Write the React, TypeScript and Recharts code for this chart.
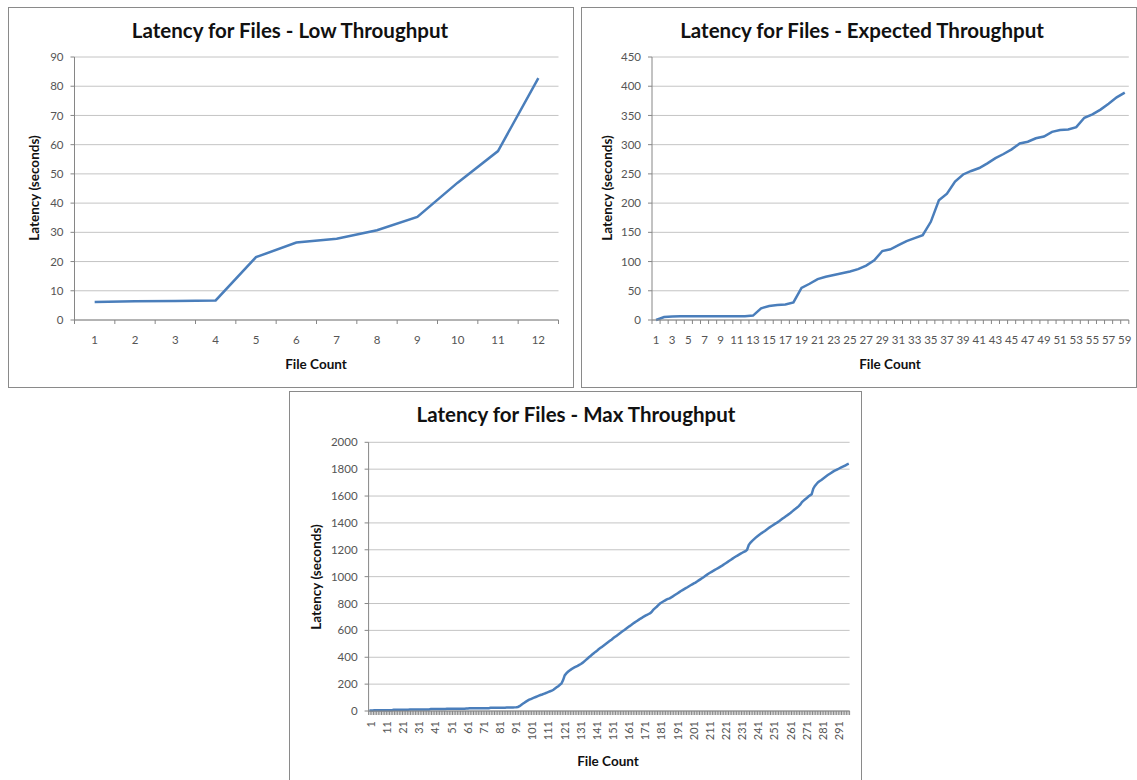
import React from 'react';
import { LineChart, Line, XAxis, YAxis, CartesianGrid } from 'recharts';

// ---------- data ----------
const lowLatency = [6.2, 6.4, 6.5, 6.7, 21.5, 26.5, 27.8, 30.7, 35.3, 47.0, 57.8, 82.8];

const expectedLatency = [
  0, 5, 6, 6.5, 6.5, 6.5, 6.5, 6.5, 6.5, 6.5,
  6.5, 6.5, 7.5, 20, 24, 25.5, 26.5, 30, 55, 62,
  70, 74, 77, 80, 83, 87, 93, 102, 118, 121,
  128, 135, 140, 145, 168, 205, 216, 237, 249, 255,
  260, 268, 277, 284, 292, 302, 305, 311, 314, 322,
  325, 326, 330, 346, 352, 360, 370, 381, 389,
];

const maxLatency = [
  4, 4, 4, 5, 5, 5, 5, 5, 5, 5, 5, 6, 6, 6, 6,
  9, 9, 10, 10, 10, 10, 10, 10, 10, 10, 11, 11, 11, 11, 11, 11, 11, 11, 12, 12, 12, 12, 12,
  14, 14, 15, 15, 15, 15, 15, 15, 15, 15, 16, 16, 16, 16, 16, 16, 16, 16, 17, 17, 17, 17,
  19, 19, 20, 20, 20, 20, 20, 20, 20, 21, 21, 21, 21, 21, 21,
  24, 24, 24, 25, 25, 25, 25, 25, 25, 25, 26, 26, 26, 26, 26, 27, 28, 30,
  36, 45, 54, 62, 70, 77, 84,
  89, 94, 99, 104, 109, 114, 119,
  123, 128, 132, 137, 142, 147, 151,
  158, 167, 176, 185, 195, 205,
  230, 265,
  280, 292, 302, 310, 318,
  324, 330, 336, 343, 350,
  358, 368, 379, 389, 400, 410, 420, 430,
  440, 449, 459, 468, 477, 486, 495, 504,
  513, 522, 531, 541, 550, 559, 568, 577,
  586, 595, 603, 612, 621, 630, 638, 647, 656,
  664, 672, 680, 688, 695, 703,
  710, 716, 722, 728,
  740, 755, 766, 776, 788, 800,
  808, 815, 822, 829, 834, 839,
  846, 853, 861, 869, 877, 885, 893, 900,
  907, 914, 921, 929, 936, 943, 950, 956, 964,
  972, 980, 988, 996, 1005, 1013, 1021, 1029,
  1036, 1043, 1050, 1057, 1064, 1071, 1078, 1086,
  1094, 1102, 1110, 1118, 1126, 1134, 1142, 1150, 1157,
  1164, 1171, 1178, 1184, 1190, 1200,
  1235, 1252, 1265, 1276, 1287, 1297,
  1306, 1315, 1324, 1332, 1340, 1349, 1358, 1367,
  1375, 1383, 1391, 1398, 1406,
  1414, 1423, 1432, 1441, 1450,
  1458, 1467, 1476, 1486, 1496, 1505, 1515, 1525, 1538,
  1555, 1566, 1576, 1586, 1596, 1605, 1613,
  1655, 1675,
  1690, 1703, 1712, 1720, 1729, 1738, 1747, 1756,
  1764, 1772, 1780, 1787, 1793, 1799,
  1805, 1811, 1817, 1823, 1829, 1835, 1841,
];

const lowYTicks = [0, 10, 20, 30, 40, 50, 60, 70, 80, 90];
const expectedYTicks = [0, 50, 100, 150, 200, 250, 300, 350, 400, 450];
const maxYTicks = [0, 200, 400, 600, 800, 1000, 1200, 1400, 1600, 1800, 2000];

const titles = [
  'Latency for Files - Low Throughput',
  'Latency for Files - Expected Throughput',
  'Latency for Files - Max Throughput',
];
const yAxisTitle = 'Latency (seconds)';
const xAxisTitle = 'File Count';

// ---------- styles ----------
const FONT = 'Lato, "Open Sans", "Liberation Sans", sans-serif';
const LINE = '#4a7ebb';
const AXIS = '#868686';
const GRID = '#c4c4c4';
const TICK_TEXT = '#555555';
const BORDER = '#8a8a8a';

type Margin = { top: number; right: number; bottom: number; left: number };

type PanelProps = {
  left: number;
  top: number;
  width: number;
  height: number;
  margin: Margin;
  xAxisHeight: number;
  values: number[];
  yTicks: number[];
  title: string;
  titleCx: number;
  titleCy: number;
  yLabelCx: number;
  yLabelCy: number;
  xLabelCx: number;
  xLabelCy: number;
  labelEvery: number;
  rotate: boolean;
  labelOffset: number;
};

const Y_AXIS_WIDTH = 60;

function makeTick(bw: number, n: number, every: number, rotate: boolean, labelOffset: number) {
  return (props: any) => {
    const { x, y, payload } = props;
    const v = payload.value as number;
    const show = (v - 1) % every === 0;
    return (
      <g>
        <line x1={x - bw / 2} y1={y} x2={x - bw / 2} y2={y + 4} stroke={AXIS} strokeWidth={1} />
        {v === n && <line x1={x + bw / 2} y1={y} x2={x + bw / 2} y2={y + 4} stroke={AXIS} strokeWidth={1} />}
        {show &&
          (rotate ? (
            <text
              x={x + 1}
              y={y + labelOffset}
              transform={`rotate(-90, ${x + 1}, ${y + labelOffset})`}
              textAnchor="end"
              dominantBaseline="central"
              fontSize={11}
              fontFamily={FONT}
              fill={TICK_TEXT}
            >
              {v}
            </text>
          ) : (
            <text
              x={x}
              y={y + labelOffset}
              textAnchor="middle"
              dominantBaseline="central"
              fontSize={11.5}
              fontFamily={FONT}
              fill={TICK_TEXT}
            >
              {v}
            </text>
          ))}
      </g>
    );
  };
}

function Panel(p: PanelProps) {
  const n = p.values.length;
  const cats = p.values.map((_, i) => i + 1);
  const rows = p.values.map((v, i) => ({ x: cats[i], y: v }));
  const plotW = p.width - p.margin.left - p.margin.right - Y_AXIS_WIDTH;
  const bw = plotW / n;
  const yMax = p.yTicks[p.yTicks.length - 1];
  return (
    <>
      <div
        style={{
          position: 'absolute',
          left: p.left,
          top: p.top,
          width: p.width,
          height: p.height,
          border: `1px solid ${BORDER}`,
          boxSizing: 'border-box',
          background: '#fff',
        }}
      />
      <div style={{ position: 'absolute', left: p.left, top: p.top }}>
        <LineChart width={p.width} height={p.height} data={rows} margin={p.margin}>
          <CartesianGrid horizontal vertical={false} stroke={GRID} strokeWidth={1} />
          <XAxis
            type="number"
            dataKey="x"
            domain={[0.5, n + 0.5]}
            ticks={cats}
            interval={0}
            allowDataOverflow
            height={p.xAxisHeight}
            tickLine={false}
            tickSize={0}
            tickMargin={0}
            axisLine={{ stroke: AXIS, strokeWidth: 1 }}
            tick={makeTick(bw, n, p.labelEvery, p.rotate, p.labelOffset)}
          />
          <YAxis
            type="number"
            domain={[0, yMax]}
            ticks={p.yTicks}
            interval={0}
            width={Y_AXIS_WIDTH}
            tickSize={4}
            tickMargin={7}
            tickLine={{ stroke: AXIS }}
            axisLine={{ stroke: AXIS, strokeWidth: 1 }}
            tick={{ fontSize: 11.5, fill: TICK_TEXT, fontFamily: FONT }}
          />
          <Line
            dataKey="y"
            type="linear"
            stroke={LINE}
            strokeWidth={2.5}
            dot={false}
            activeDot={false}
            isAnimationActive={false}
          />
        </LineChart>
      </div>
      <div
        style={{
          position: 'absolute',
          left: p.titleCx - 300,
          top: p.titleCy - 14,
          width: 600,
          height: 28,
          lineHeight: '28px',
          textAlign: 'center',
          fontFamily: FONT,
          fontWeight: 700,
          fontSize: 20.5,
          color: '#111',
          whiteSpace: 'nowrap',
        }}
      >
        {p.title}
      </div>
      <div
        style={{
          position: 'absolute',
          left: p.yLabelCx,
          top: p.yLabelCy,
          transform: 'translate(-50%, -50%) rotate(-90deg)',
          fontFamily: FONT,
          fontWeight: 700,
          fontSize: 13.5,
          color: '#111',
          whiteSpace: 'nowrap',
          lineHeight: '16px',
        }}
      >
        {yAxisTitle}
      </div>
      <div
        style={{
          position: 'absolute',
          left: p.xLabelCx,
          top: p.xLabelCy,
          transform: 'translate(-50%, -50%)',
          fontFamily: FONT,
          fontWeight: 700,
          fontSize: 13.5,
          color: '#111',
          whiteSpace: 'nowrap',
          lineHeight: '16px',
        }}
      >
        {xAxisTitle}
      </div>
    </>
  );
}

export default function App() {
  return (
    <div
      style={{
        position: 'absolute',
        left: 0,
        top: 0,
        width: 1137,
        height: 780,
        overflow: 'hidden',
        background: '#fff',
      }}
    >
      <Panel
        left={8}
        top={7}
        width={566}
        height={381}
        margin={{ top: 50, right: 15.5, bottom: 38, left: 6.5 }}
        xAxisHeight={30}
        values={lowLatency}
        yTicks={lowYTicks}
        title={titles[0]}
        titleCx={290}
        titleCy={30}
        yLabelCx={34}
        yLabelCy={187.5}
        xLabelCx={316}
        xLabelCy={364}
        labelEvery={1}
        rotate={false}
        labelOffset={19}
      />
      <Panel
        left={581}
        top={7}
        width={556}
        height={381}
        margin={{ top: 50, right: 8.2, bottom: 38, left: 11 }}
        xAxisHeight={30}
        values={expectedLatency}
        yTicks={expectedYTicks}
        title={titles[1]}
        titleCx={862}
        titleCy={30}
        yLabelCx={606.5}
        yLabelCy={187.5}
        xLabelCx={890}
        xLabelCy={364}
        labelEvery={2}
        rotate={false}
        labelOffset={19}
      />
      <Panel
        left={289}
        top={391}
        width={573}
        height={395}
        margin={{ top: 51.3, right: 12.4, bottom: 35, left: 19.6 }}
        xAxisHeight={40}
        values={maxLatency}
        yTicks={maxYTicks}
        title={titles[2]}
        titleCx={576}
        titleCy={414}
        yLabelCx={316}
        yLabelCy={577}
        xLabelCx={608}
        xLabelCy={761}
        labelEvery={10}
        rotate={true}
        labelOffset={10}
      />
    </div>
  );
}
